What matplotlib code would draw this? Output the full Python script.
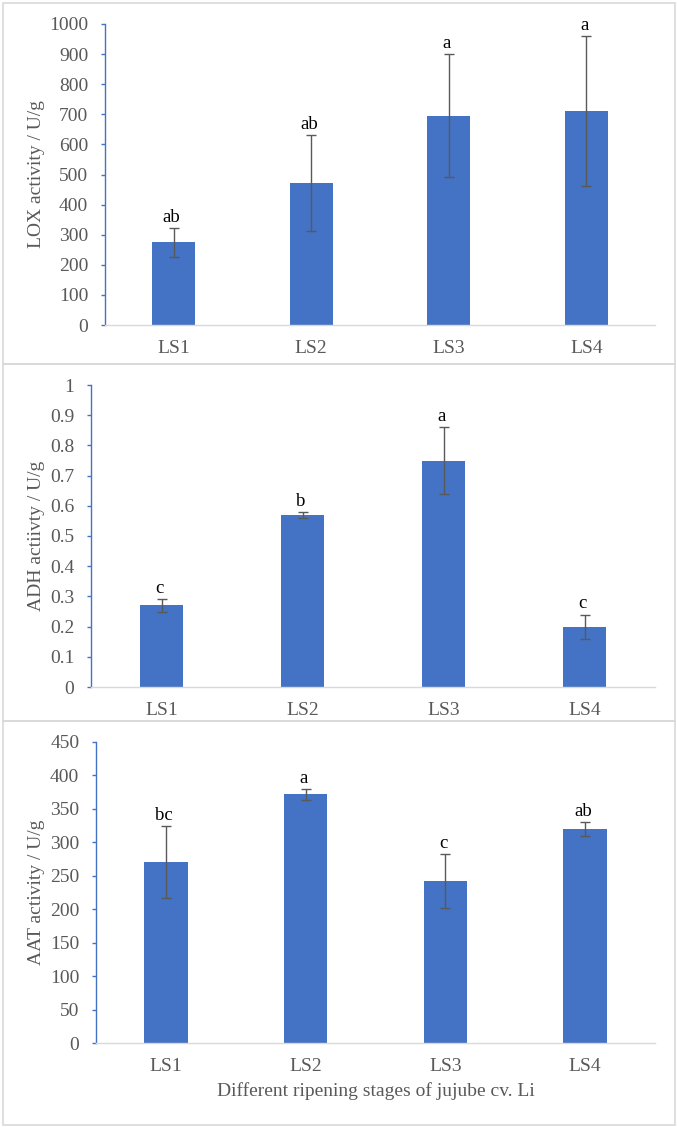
import numpy as np
from matplotlib import pyplot as plt
from matplotlib.patches import Rectangle

plt.rcParams['font.family'] = ['Liberation Serif', 'DejaVu Serif']

stages = ["LS1", "LS2", "LS3", "LS4"]

# LOX activity (U/g)
lox_mean = [275, 472, 695, 710]
lox_err = [48, 160, 204, 249]
lox_letters = ["ab", "ab", "a", "a"]

# ADH activity (U/g)
adh_mean = [0.27, 0.57, 0.75, 0.20]
adh_err = [0.02, 0.01, 0.11, 0.04]
adh_letters = ["c", "b", "a", "c"]

# AAT activity (U/g)
aat_mean = [271, 372, 242, 320]
aat_err = [54, 8, 40, 11]
aat_letters = ["bc", "a", "c", "ab"]

W, H = 677, 1127
bar_color = "#4472C4"
text_gray = "#595959"

fig = plt.figure(figsize=(W / 100, H / 100), dpi=100)


def px_axes(left, right, top, bottom):
    return fig.add_axes([left / W, 1 - bottom / H, (right - left) / W, (bottom - top) / H])


def panel_box(top, bottom):
    fig.add_artist(Rectangle((2.5 / W, 1 - bottom / H), 672.5 / W, (bottom - top) / H,
                             transform=fig.transFigure, fill=False,
                             edgecolor="#D9D9D9", linewidth=1.2))


def draw_panel(ax, means, errs, letters, ymax, ystep, ylabel, ylabel_y, fmt):
    x = np.arange(len(stages))
    ax.bar(x, means, width=0.31, color=bar_color, zorder=2)
    ax.errorbar(x, means, yerr=errs, fmt="none", ecolor="#595959",
                elinewidth=1.0, capsize=3.5, capthick=1.0, zorder=3)
    for xi, m, e, lab in zip(x, means, errs, letters):
        ax.annotate(lab, (xi, m + e), xytext=(-1.5, 1.5), textcoords="offset points",
                    ha="center", va="bottom", fontsize=13.5, color="black")
    ax.set_xlim(-0.5, 3.5)
    ax.set_ylim(0, ymax)
    ticks = np.arange(0, ymax + ystep / 2, ystep)
    ax.set_yticks(ticks)
    ax.set_yticklabels([fmt(t) for t in ticks])
    ax.set_xticks(x)
    ax.set_xticklabels(stages)
    for s in ["top", "right"]:
        ax.spines[s].set_visible(False)
    ax.spines["left"].set_color(bar_color)
    ax.spines["left"].set_linewidth(1.0)
    ax.spines["bottom"].set_color("#D9D9D9")
    ax.spines["bottom"].set_linewidth(1.0)
    ax.tick_params(axis="y", direction="out", length=3, width=1.0, color=bar_color,
                   labelsize=14, labelcolor=text_gray, pad=9)
    ax.tick_params(axis="x", length=0, labelsize=14, labelcolor=text_gray, pad=11)
    fig.text(37 / W, 1 - ylabel_y / H, ylabel, rotation=90, ha="center", va="center",
             fontsize=14, color=text_gray)


panel_box(3, 364)
panel_box(364, 721)
panel_box(721, 1125)

ax1 = px_axes(105, 655, 24, 325)
draw_panel(ax1, lox_mean, lox_err, lox_letters, 1000, 100, "LOX activity / U/g", 174,
           lambda t: f"{int(t)}")

ax2 = px_axes(91, 655, 385, 687)
draw_panel(ax2, adh_mean, adh_err, adh_letters, 1.0, 0.1, "ADH actiivty / U/g", 536,
           lambda t: "0" if t == 0 else ("1" if abs(t - 1) < 1e-9 else f"{t:.1f}"))

ax3 = px_axes(96, 655, 742, 1043)
draw_panel(ax3, aat_mean, aat_err, aat_letters, 450, 50, "AAT activity / U/g", 892,
           lambda t: f"{int(t)}")
ax3.set_xlabel("Different ripening stages of jujube cv. Li", fontsize=14,
               color=text_gray, labelpad=5)

fig.savefig("out.png", dpi=100)
